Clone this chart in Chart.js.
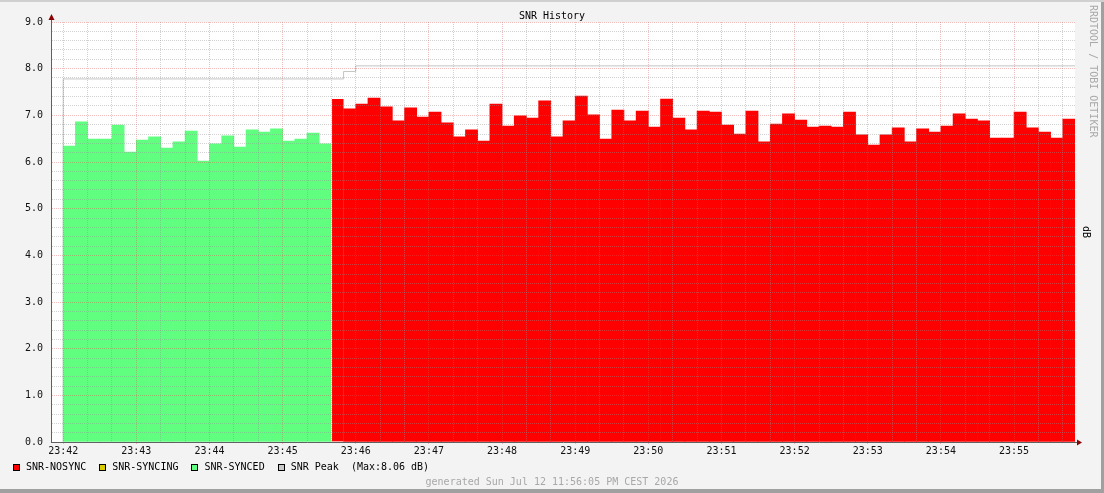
<!DOCTYPE html>
<html>
<head>
<meta charset="utf-8">
<title>SNR History</title>
<script src="https://cdn.jsdelivr.net/npm/chart.js@4.4.1/dist/chart.umd.min.js"></script>
<style>
html, body { margin: 0; padding: 0; background: #f3f3f3; }
#frame {
    position: relative; width: 1104px; height: 493px; overflow: hidden;
    background: #f3f3f3;
    box-shadow: inset 0 2px 0 #d0d0d0, inset -3px 0 0 #a0a0a0, inset 0 -4px 0 #a0a0a0;
    font-family: 'DejaVu Sans Mono', monospace; font-size: 10px;
}
#chart { position: absolute; left: 0; top: 0; }
.txt { position: absolute; line-height: 12px; white-space: pre; }
#title { left: 0; width: 1104px; top: 10px; text-align: center; color: #000; }
#footer { left: 0; width: 1104px; top: 476px; text-align: center; color: #a8a8a8; }
#watermark { left: 1087px; top: 5px; writing-mode: vertical-rl; color: #a8a8a8; }
#unit { left: 1080px; top: 226px; writing-mode: vertical-rl; color: #000; }
#legend { position: absolute; left: 13px; top: 461px; display: flex; align-items: center; line-height: 12px; }
.item { display: flex; align-items: center; margin-right: 13px; white-space: pre; color: #000; }
.box { width: 7px; height: 7px; box-sizing: border-box; border: 1px solid #000; margin-right: 6px; }
</style>
</head>
<body>
<div id="frame">
    <canvas id="chart" width="1104" height="493"></canvas>
    <div class="txt" id="title">SNR History</div>
    <div class="txt" id="watermark">RRDTOOL / TOBI OETIKER</div>
    <div class="txt" id="unit">dB</div>
    <div id="legend"></div>
    <div class="txt" id="footer">generated Sun Jul 12 11:56:05 PM CEST 2026</div>
</div>
<script>
Chart.defaults.font.family = "'DejaVu Sans Mono', monospace";
Chart.defaults.font.size = 10;
Chart.defaults.color = '#111';

// 10 second samples starting at 23:42:00
const STEP = 10;
const GRID_STEP = 20;
const SAMPLES = 83;

const minuteLabels = ['23:42', '23:43', '23:44', '23:45', '23:46', '23:47', '23:48',
                      '23:49', '23:50', '23:51', '23:52', '23:53', '23:54', '23:55'];

// SNR per sample, split by line state (first sample index of each block)
const syncedFrom = 0;
const synced = [6.34, 6.86, 6.49, 6.49, 6.79, 6.21, 6.47, 6.54, 6.30, 6.43, 6.66,
                6.02, 6.39, 6.56, 6.32, 6.69, 6.64, 6.71, 6.45, 6.49, 6.62, 6.39];

const syncingFrom = 22;
const syncing = [];

const nosyncFrom = 22;
const nosync = [7.35, 7.14, 7.24, 7.37, 7.18, 6.88, 7.16, 6.96, 7.07, 6.84, 6.54,
                6.69, 6.45, 7.24, 6.77, 6.99, 6.94, 7.31, 6.54, 6.88, 7.41, 7.01,
                6.49, 7.11, 6.88, 7.09, 6.75, 7.35, 6.94, 6.69, 7.09, 7.07, 6.79,
                6.60, 7.09, 6.43, 6.81, 7.03, 6.90, 6.75, 6.77, 6.75, 7.07, 6.58,
                6.36, 6.58, 6.73, 6.43, 6.71, 6.64, 6.77, 7.03, 6.92, 6.88, 6.51,
                6.51, 7.07, 6.73, 6.64, 6.51, 6.92];

// peak SNR, first value is the one before 23:42:00
const peak = [0,
    7.78, 7.78, 7.78, 7.78, 7.78, 7.78, 7.78, 7.78, 7.78, 7.78, 7.78, 7.78,
    7.78, 7.78, 7.78, 7.78, 7.78, 7.78, 7.78, 7.78, 7.78, 7.78, 7.78, 7.94,
    8.06, 8.06, 8.06, 8.06, 8.06, 8.06, 8.06, 8.06, 8.06, 8.06, 8.06, 8.06,
    8.06, 8.06, 8.06, 8.06, 8.06, 8.06, 8.06, 8.06, 8.06, 8.06, 8.06, 8.06,
    8.06, 8.06, 8.06, 8.06, 8.06, 8.06, 8.06, 8.06, 8.06, 8.06, 8.06, 8.06,
    8.06, 8.06, 8.06, 8.06, 8.06, 8.06, 8.06, 8.06, 8.06, 8.06, 8.06, 8.06,
    8.06, 8.06, 8.06, 8.06, 8.06, 8.06, 8.06, 8.06, 8.06, 8.06, 8.06];

const MAJOR = 'rgba(222, 81, 81, 0.38)';
const MINOR = 'rgba(143, 143, 143, 0.4)';

function toBars(values, from) {
    return values.map((v, i) => ({ x: (from + i) * STEP + STEP / 2, y: v }));
}

function isWhole(v) {
    return Math.abs(v - Math.round(v)) < 1e-6;
}

// thin white seam where the line state changes
function stateEdge(from) {
    return (c) => (from > 0 && c.dataIndex === 0) ? { left: 1, top: 0, right: 0, bottom: 0 } : 0;
}

const xTicks = [];
for (let t = 0; t < SAMPLES * STEP; t += GRID_STEP) xTicks.push(t);
const yTicks = [];
for (let i = 0; i <= 45; i++) yTicks.push(i / 5);

const framePlugin = {
    id: 'frame',
    beforeDraw(chart) {
        const { ctx, chartArea: a } = chart;
        ctx.save();
        ctx.fillStyle = '#ffffff';
        ctx.fillRect(a.left, a.top, a.right - a.left, a.bottom - a.top);
        ctx.restore();
    },
    afterDraw(chart) {
        const { ctx, chartArea: a } = chart;
        const x0 = Math.round(a.left) + 0.5;
        const y0 = Math.round(a.bottom) + 0.5;
        ctx.save();
        ctx.strokeStyle = '#606060';
        ctx.lineWidth = 1;
        ctx.beginPath();
        ctx.moveTo(x0, a.top);
        ctx.lineTo(x0, a.top - 4);
        ctx.moveTo(a.right, y0);
        ctx.lineTo(a.right + 3, y0);
        ctx.stroke();
        ctx.fillStyle = '#8b0000';
        ctx.beginPath();
        ctx.moveTo(x0, a.top - 8);
        ctx.lineTo(x0 - 3, a.top - 2);
        ctx.lineTo(x0 + 3, a.top - 2);
        ctx.closePath();
        ctx.fill();
        ctx.beginPath();
        ctx.moveTo(a.right + 7, y0);
        ctx.lineTo(a.right + 2, y0 - 3);
        ctx.lineTo(a.right + 2, y0 + 3);
        ctx.closePath();
        ctx.fill();
        ctx.restore();
    }
};

const datasets = [
    {
        label: 'SNR-NOSYNC', data: toBars(nosync, nosyncFrom), backgroundColor: '#ff0000',
        borderColor: '#ffffff', borderWidth: stateEdge(nosyncFrom), order: 0
    },
    {
        label: 'SNR-SYNCING', data: toBars(syncing, syncingFrom), backgroundColor: '#d8cc00',
        borderColor: '#ffffff', borderWidth: stateEdge(syncingFrom), order: 0
    },
    {
        label: 'SNR-SYNCED', data: toBars(synced, syncedFrom), backgroundColor: '#60ff80',
        borderColor: '#ffffff', borderWidth: stateEdge(syncedFrom), order: 0
    },
    {
        type: 'line',
        label: 'SNR Peak  (Max:' + Math.max(...peak).toFixed(2) + ' dB)',
        data: peak.map((v, i) => ({ x: i * STEP, y: v })),
        borderColor: '#c4c4c4',
        backgroundColor: '#c8c8c8',
        borderWidth: 1,
        pointRadius: 0,
        stepped: 'after',
        fill: false,
        order: 1
    }
];

const chart = new Chart(document.getElementById('chart'), {
    type: 'bar',
    data: { datasets: datasets },
    options: {
        responsive: false,
        animation: false,
        layout: { padding: { top: 22, right: 29, bottom: 0, left: 0 } },
        plugins: {
            legend: { display: false },
            tooltip: { enabled: false }
        },
        datasets: {
            bar: { grouped: false, barPercentage: 1, categoryPercentage: 1, borderSkipped: false }
        },
        scales: {
            x: {
                type: 'linear',
                min: -STEP,
                max: SAMPLES * STEP,
                offset: false,
                afterFit: (scale) => { scale.height = 51; },
                afterBuildTicks: (scale) => { scale.ticks = xTicks.map(v => ({ value: v })); },
                grid: {
                    offset: false,
                    z: 1,
                    lineWidth: 1,
                    drawTicks: true,
                    tickLength: 2,
                    color: (c) => (c.tick && c.tick.value % 60 === 0) ? MAJOR : MINOR,
                    tickColor: (c) => (c.tick && c.tick.value % 60 === 0) ? MAJOR : 'rgba(0,0,0,0)'
                },
                border: { display: true, color: '#606060', width: 1, dash: [1, 1], z: 2 },
                ticks: {
                    autoSkip: false,
                    maxRotation: 0,
                    padding: 1,
                    callback: (v) => v % 60 === 0 ? minuteLabels[v / 60] : ''
                }
            },
            y: {
                min: 0,
                max: 9,
                afterFit: (scale) => { scale.width = 51; },
                afterBuildTicks: (scale) => { scale.ticks = yTicks.map(v => ({ value: v })); },
                grid: {
                    z: 1,
                    lineWidth: 1,
                    drawTicks: false,
                    color: (c) => (c.tick && isWhole(c.tick.value)) ? MAJOR : MINOR
                },
                border: { display: true, color: '#606060', width: 1, dash: [1, 1], z: 2 },
                ticks: {
                    autoSkip: false,
                    padding: 8,
                    callback: (v) => isWhole(v) ? v.toFixed(1) : ''
                }
            }
        }
    },
    plugins: [framePlugin]
});

const legend = document.getElementById('legend');
chart.data.datasets.forEach(ds => {
    const item = document.createElement('div');
    item.className = 'item';
    const box = document.createElement('span');
    box.className = 'box';
    box.style.background = ds.backgroundColor;
    item.appendChild(box);
    item.appendChild(document.createTextNode(ds.label));
    legend.appendChild(item);
});
</script>
</body>
</html>
